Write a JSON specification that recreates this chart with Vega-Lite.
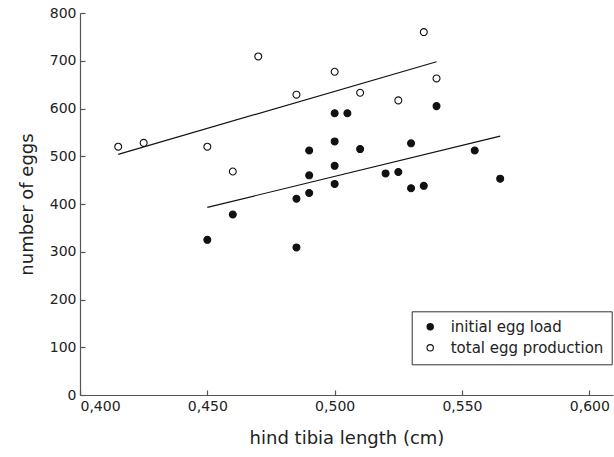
{
  "$schema": "https://vega.github.io/schema/vega-lite/v6.json",
  "width": 533,
  "height": 382,
  "autosize": {"type": "none"},
  "padding": {"left": 80, "top": 13, "right": 1, "bottom": 62},
  "background": "white",
  "config": {
    "view": {"stroke": null},
    "axis": {
      "grid": false,
      "domainColor": "#555",
      "domainWidth": 1.2,
      "tickColor": "#555",
      "tickWidth": 1.2,
      "tickSize": -5,
      "labelFont": "DejaVu Sans",
      "labelFontSize": 14,
      "labelColor": "#222",
      "titleFont": "DejaVu Sans",
      "titleFontSize": 18,
      "titleFontWeight": "normal",
      "titleColor": "#222",
      "labelPadding": 9
    }
  },
  "datasets": {
    "points": [
      {"len": 0.450, "eggs": 325, "series": "initial egg load"},
      {"len": 0.460, "eggs": 378, "series": "initial egg load"},
      {"len": 0.485, "eggs": 411, "series": "initial egg load"},
      {"len": 0.485, "eggs": 309, "series": "initial egg load"},
      {"len": 0.490, "eggs": 512, "series": "initial egg load"},
      {"len": 0.490, "eggs": 460, "series": "initial egg load"},
      {"len": 0.490, "eggs": 423, "series": "initial egg load"},
      {"len": 0.500, "eggs": 590, "series": "initial egg load"},
      {"len": 0.500, "eggs": 531, "series": "initial egg load"},
      {"len": 0.500, "eggs": 480, "series": "initial egg load"},
      {"len": 0.500, "eggs": 442, "series": "initial egg load"},
      {"len": 0.505, "eggs": 590, "series": "initial egg load"},
      {"len": 0.510, "eggs": 515, "series": "initial egg load"},
      {"len": 0.520, "eggs": 464, "series": "initial egg load"},
      {"len": 0.525, "eggs": 467, "series": "initial egg load"},
      {"len": 0.530, "eggs": 527, "series": "initial egg load"},
      {"len": 0.530, "eggs": 433, "series": "initial egg load"},
      {"len": 0.535, "eggs": 438, "series": "initial egg load"},
      {"len": 0.540, "eggs": 605, "series": "initial egg load"},
      {"len": 0.555, "eggs": 512, "series": "initial egg load"},
      {"len": 0.565, "eggs": 453, "series": "initial egg load"},
      {"len": 0.415, "eggs": 520, "series": "total egg production"},
      {"len": 0.425, "eggs": 528, "series": "total egg production"},
      {"len": 0.450, "eggs": 520, "series": "total egg production"},
      {"len": 0.460, "eggs": 468, "series": "total egg production"},
      {"len": 0.470, "eggs": 709, "series": "total egg production"},
      {"len": 0.485, "eggs": 629, "series": "total egg production"},
      {"len": 0.500, "eggs": 677, "series": "total egg production"},
      {"len": 0.510, "eggs": 633, "series": "total egg production"},
      {"len": 0.525, "eggs": 617, "series": "total egg production"},
      {"len": 0.535, "eggs": 760, "series": "total egg production"},
      {"len": 0.540, "eggs": 663, "series": "total egg production"}
    ],
    "fits": [
      {"len": 0.450, "eggs": 393, "series": "initial egg load"},
      {"len": 0.565, "eggs": 542, "series": "initial egg load"},
      {"len": 0.415, "eggs": 504, "series": "total egg production"},
      {"len": 0.540, "eggs": 698, "series": "total egg production"}
    ]
  },
  "layer": [
    {
      "data": {"name": "fits"},
      "mark": {"type": "line", "color": "#111", "strokeWidth": 1.2},
      "encoding": {
        "x": {"field": "len", "type": "quantitative"},
        "y": {"field": "eggs", "type": "quantitative"},
        "detail": {"field": "series"}
      }
    },
    {
      "data": {"name": "points"},
      "mark": {"type": "point", "shape": "circle", "filled": true, "stroke": "#111", "strokeWidth": 1.1, "size": 48, "opacity": 1},
      "encoding": {
        "x": {
          "field": "len", "type": "quantitative",
          "scale": {"domain": [0.4, 0.6093], "nice": false, "zero": false},
          "axis": {
            "values": [0.4, 0.45, 0.5, 0.55, 0.6],
            "labelExpr": "replace(format(datum.value, '.3f'), '.', ',')",
            "title": "hind tibia length (cm)",
            "titlePadding": 16
          }
        },
        "y": {
          "field": "eggs", "type": "quantitative",
          "scale": {"domain": [0, 800], "nice": false},
          "axis": {
            "values": [0, 100, 200, 300, 400, 500, 600, 700, 800],
            "title": "number of eggs",
            "titlePadding": 13
          }
        },
        "fill": {
          "field": "series", "type": "nominal",
          "scale": {"domain": ["initial egg load", "total egg production"], "range": ["#111111", "#ffffff"]},
          "legend": {
            "title": null,
            "orient": "none",
            "legendX": 331.7,
            "legendY": 298.3,
            "strokeColor": "#333",
            "fillColor": "white",
            "padding": 8,
            "rowPadding": 5,
            "labelFont": "DejaVu Sans",
            "labelFontSize": 15,
            "labelLimit": 400,
            "labelColor": "#222",
            "labelOffset": 13,
            "symbolOffset": 3,
            "symbolType": "circle",
            "symbolSize": 40,
            "symbolStrokeColor": "#111",
            "symbolStrokeWidth": 1.1
          }
        }
      }
    }
  ]
}
